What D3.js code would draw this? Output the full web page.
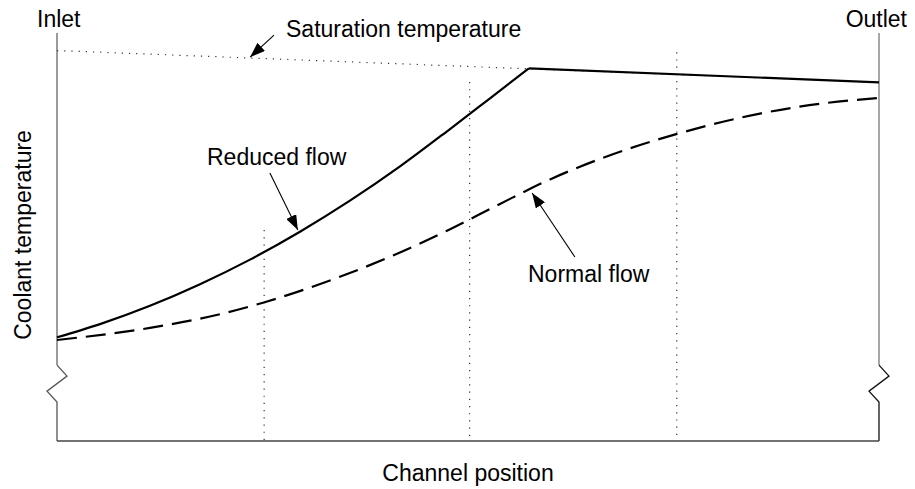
<!DOCTYPE html>
<html>
<head>
<meta charset="utf-8">
<script src="https://cdn.jsdelivr.net/npm/d3@7"></script>
<style>
  body { margin: 0; background: #fff; }
  text { font-family: "Liberation Sans", Arial, sans-serif; font-size: 23px; fill: #000; }
</style>
</head>
<body>
<svg id="chart" width="915" height="489"></svg>
<script>
// DATA (position along channel 0..1, temperature in relative units 0..100)
const reducedPos  = [0, 0.0523, 0.1131, 0.1740, 0.2348, 0.2956, 0.3564, 0.4173, 0.4781, 0.5268, 0.5742];
const reducedTemp = [25.42, 28.65, 33.14, 38.43, 44.46, 51.30, 58.90, 67.30, 76.47, 84.0, 91.35];

const normalPos  = [0, 0.1131, 0.1861, 0.2506, 0.3406, 0.4088, 0.4745, 0.5389, 0.5998, 0.6606, 0.7543, 0.8552, 0.9367, 1];
const normalTemp = [24.75, 27.72, 30.51, 33.90, 39.98, 45.47, 51.54, 58.11, 64.12, 69.14, 75.27, 80.25, 82.87, 84.07];

const satPos  = [0, 1];
const satTemp = [95.7, 87.9];

// dotted guide lines: position and top temperature
const guidePos = [0.252, 0.502, 0.754];
const guideTop = [51.7, 88.0, 95.3];

// axis break (temperature where the zigzag starts)
const breakTemp = 18.6;

// annotations
const labels   = ["Saturation temperature", "Reduced flow", "Normal flow"];
const labelPos = [0.2786, 0.1825, 0.573];
const labelTmp = [99.1, 67.6, 39.0];
const tailPos  = [0.264, 0.259, 0.630];
const tailTmp  = [99.5, 65.7, 45.1];
const tipPos   = [0.235, 0.293, 0.578];
const tipTmp   = [94.1, 51.7, 60.8];

const svg = d3.select("#chart");
const x = d3.scaleLinear().domain([0, 1]).range([57, 879]);
const y = d3.scaleLinear().domain([0, 100]).range([441, 33]);

// arrow marker
svg.append("defs").append("marker")
  .attr("id", "head")
  .attr("viewBox", "0 0 15 11")
  .attr("refX", 15).attr("refY", 5.5)
  .attr("markerWidth", 15).attr("markerHeight", 11)
  .attr("markerUnits", "userSpaceOnUse")
  .attr("orient", "auto")
  .append("path").attr("d", "M0,0L15,5.5L0,11Z").attr("fill", "#000");

// frame: left and right verticals with zigzag break, bottom line
const zig = [[0, 0], [10, 11], [-10, 26], [0, 37]];
function sideAxis(px, upperColor, lowerColor) {
  const yb = y(breakTemp);
  svg.append("line")
    .attr("x1", px).attr("x2", px)
    .attr("y1", y(100)).attr("y2", yb)
    .attr("stroke", upperColor).attr("stroke-width", 1.3);
  const pts = zig.map(d => [px + d[0], yb + d[1]]);
  pts.push([px, y(0)]);
  svg.append("path")
    .attr("d", d3.line()(pts))
    .attr("fill", "none")
    .attr("stroke", lowerColor).attr("stroke-width", 1.3);
}
sideAxis(x(0), "#666", "#555");
sideAxis(x(1), "#777", "#111");

svg.append("line")
  .attr("x1", x(0)).attr("x2", x(1))
  .attr("y1", y(0)).attr("y2", y(0))
  .attr("stroke", "#444").attr("stroke-width", 1.3);

// dotted guides
guidePos.forEach((p, i) => {
  svg.append("line")
    .attr("x1", x(p)).attr("x2", x(p))
    .attr("y1", y(guideTop[i])).attr("y2", y(0))
    .attr("stroke", "#333").attr("stroke-width", 1.2)
    .attr("stroke-dasharray", "1.2,6");
});

// saturation line (dotted)
const straight = d3.line().x(d => x(d[0])).y(d => y(d[1]));
svg.append("path")
  .attr("d", straight(satPos.map((p, i) => [p, satTemp[i]])))
  .attr("fill", "none")
  .attr("stroke", "#333").attr("stroke-width", 1.2)
  .attr("stroke-dasharray", "1.2,6");

// normal flow (dashed)
const curve = d3.line().x(d => x(d[0])).y(d => y(d[1])).curve(d3.curveMonotoneX);
svg.append("path")
  .attr("d", curve(normalPos.map((p, i) => [p, normalTemp[i]])))
  .attr("fill", "none")
  .attr("stroke", "#000").attr("stroke-width", 2.2)
  .attr("stroke-dasharray", "20,9");

// reduced flow (solid): rises, then follows saturation temperature
const last = reducedPos.length - 1;
svg.append("path")
  .attr("d", curve(reducedPos.map((p, i) => [p, reducedTemp[i]])))
  .attr("fill", "none")
  .attr("stroke", "#000").attr("stroke-width", 2.2);
svg.append("path")
  .attr("d", straight([[reducedPos[last], reducedTemp[last]], [1, satTemp[1]]]))
  .attr("fill", "none")
  .attr("stroke", "#000").attr("stroke-width", 2.2);

// annotations
labels.forEach((t, i) => {
  svg.append("text")
    .attr("x", x(labelPos[i])).attr("y", y(labelTmp[i]))
    .text(t);
  svg.append("line")
    .attr("x1", x(tailPos[i])).attr("y1", y(tailTmp[i]))
    .attr("x2", x(tipPos[i])).attr("y2", y(tipTmp[i]))
    .attr("stroke", "#000").attr("stroke-width", 1.1)
    .attr("marker-end", "url(#head)");
});

// end labels and axis titles
svg.append("text").attr("x", 37).attr("y", 27).text("Inlet");
svg.append("text").attr("x", 907).attr("y", 27).attr("text-anchor", "end").text("Outlet");
svg.append("text")
  .attr("x", (x(0) + x(1)) / 2).attr("y", 481)
  .attr("text-anchor", "middle")
  .text("Channel position");
svg.append("text")
  .attr("transform", `translate(31,${y(50.5)}) rotate(-90)`)
  .attr("text-anchor", "middle")
  .text("Coolant temperature");
</script>
</body>
</html>
